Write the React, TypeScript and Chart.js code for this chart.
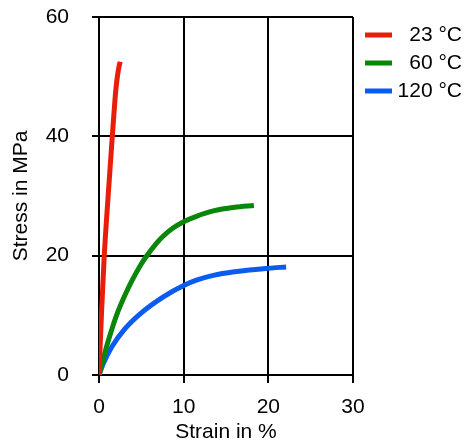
import React, { useEffect, useRef } from "react";
import { Chart, registerables } from "chart.js";

Chart.register(...registerables);

const seriesLabels = ["  23 °C", "  60 °C", "120 °C"];
const seriesColors = ["#e81e0a", "#0a870a", "#0a5cf0"];

const strain23 = [0, 0.3, 0.62, 1.08, 1.57, 1.88, 2.08, 2.3, 2.5];
const stress23 = [0, 10.5, 20, 30, 40, 46, 49, 51.2, 52.5];

const strain60 = [0, 0.9, 1.5, 2.2, 3.1, 4.0, 4.9, 5.5, 6.8, 7.6, 8.7, 10, 11.5, 13.5, 16, 18.3];
const stress60 = [0, 4.8, 7.6, 10.5, 13.5, 16.1, 18.4, 19.7, 22.1, 23.3, 24.6, 25.7, 26.6, 27.5, 28.1, 28.4];

const strain120 = [0, 0.5, 1.5, 3.1, 4.9, 7.6, 10, 11.5, 13.5, 16, 20, 22.1];
const stress120 = [0, 1.9, 4.7, 7.8, 10.3, 13.1, 15.0, 15.9, 16.7, 17.3, 17.9, 18.1];

const xTicks = [0, 10, 20, 30];
const yTicks = [0, 20, 40, 60];

const FONT = "'Liberation Sans', Arial, Helvetica, sans-serif";

const toPoints = (xs: number[], ys: number[]) => xs.map((x, i) => ({ x, y: ys[i] }));

const legendPlugin = {
  id: "rightLegend",
  afterDraw(chart: any) {
    const ctx = chart.ctx;
    const area = chart.chartArea;
    ctx.save();
    ctx.font = `21px ${FONT}`;
    ctx.textAlign = "right";
    ctx.textBaseline = "middle";
    chart.data.datasets.forEach((ds: any, i: number) => {
      const y = area.top + 18 + i * 28;
      ctx.strokeStyle = ds.borderColor;
      ctx.lineWidth = 5;
      ctx.lineCap = "butt";
      ctx.beginPath();
      ctx.moveTo(area.right + 12, y);
      ctx.lineTo(area.right + 39, y);
      ctx.stroke();
      ctx.fillStyle = "#000";
      ctx.fillText(ds.label, chart.width - 4, y);
    });
    ctx.restore();
  },
};

export default function App() {
  const ref = useRef<HTMLCanvasElement | null>(null);
  useEffect(() => {
    if (!ref.current) return;
    const chart = new Chart(ref.current, {
      type: "line",
      data: {
        datasets: [
          { label: seriesLabels[0], data: toPoints(strain23, stress23), borderColor: seriesColors[0] },
          { label: seriesLabels[1], data: toPoints(strain60, stress60), borderColor: seriesColors[1] },
          { label: seriesLabels[2], data: toPoints(strain120, stress120), borderColor: seriesColors[2] },
        ].map((d) => ({
          ...d,
          backgroundColor: d.borderColor,
          borderWidth: 5,
          pointRadius: 0,
          fill: false,
          cubicInterpolationMode: "monotone" as const,
          borderCapStyle: "butt" as const,
          borderJoinStyle: "round" as const,
        })),
      },
      options: {
        responsive: false,
        animation: false,
        layout: { padding: { left: 0, top: 17, right: 113, bottom: 0 } },
        plugins: { legend: { display: false }, tooltip: { enabled: false } },
        scales: {
          x: {
            type: "linear",
            min: 0,
            max: 30,
            afterBuildTicks: (s: any) => {
              s.ticks = xTicks.map((v) => ({ value: v }));
            },
            afterFit: (s: any) => {
              s.height = 70;
              s.paddingLeft = 10;
              s.paddingRight = 10;
            },
            ticks: { color: "#000", font: { size: 21, family: FONT }, padding: 12, maxRotation: 0 },
            grid: { color: "#000", lineWidth: 2, tickLength: 8, drawTicks: true },
            border: { display: true, color: "#000", width: 2 },
            title: {
              display: true,
              text: "Strain in %",
              color: "#000",
              font: { size: 21, family: FONT },
              padding: { top: -4, bottom: 0 },
            },
          },
          y: {
            type: "linear",
            min: 0,
            max: 60,
            afterBuildTicks: (s: any) => {
              s.ticks = yTicks.map((v) => ({ value: v }));
            },
            afterFit: (s: any) => {
              s.width = 99;
              s.paddingTop = 10;
              s.paddingBottom = 10;
            },
            ticks: { color: "#000", font: { size: 21, family: FONT }, padding: 23 },
            grid: { color: "#000", lineWidth: 2, tickLength: 7, drawTicks: true },
            border: { display: true, color: "#000", width: 2 },
            title: {
              display: true,
              text: "Stress in MPa",
              color: "#000",
              font: { size: 21, family: FONT },
              padding: { top: 9, bottom: 0 },
            },
          },
        },
      },
      plugins: [legendPlugin],
    });
    return () => chart.destroy();
  }, []);
  return (
    <div style={{ position: "absolute", left: 0, top: 0, width: 466, height: 445, background: "#fff" }}>
      <canvas ref={ref} width={466} height={445} style={{ display: "block" }} />
    </div>
  );
}
